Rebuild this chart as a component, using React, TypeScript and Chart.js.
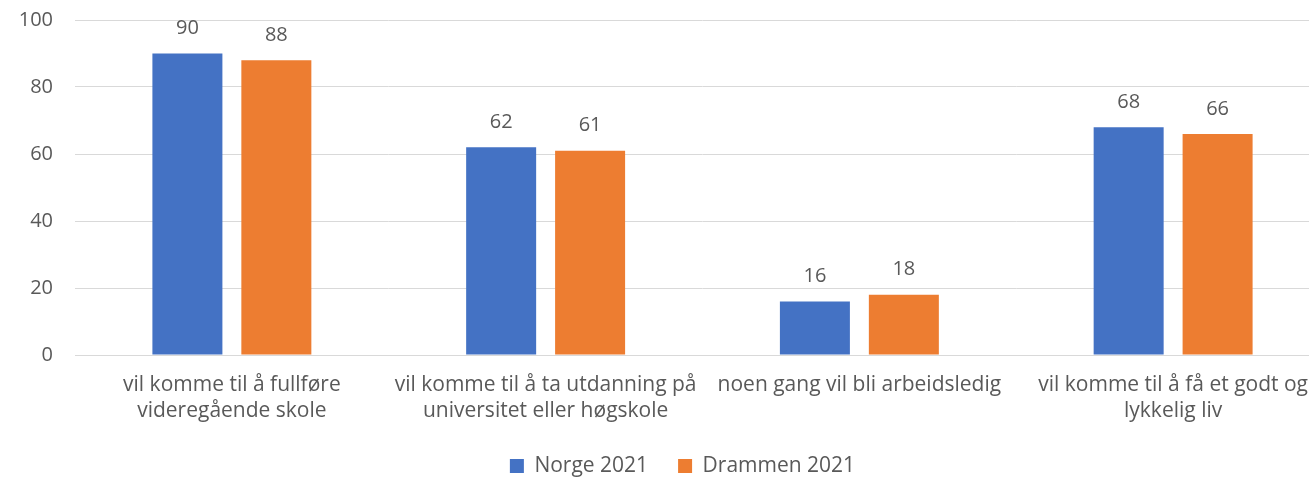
import React, { useEffect, useRef } from "react";
import { Chart, registerables } from "chart.js";

Chart.register(...registerables);

const categories: (string | string[])[] = [
  ["vil komme til å fullføre", "videregående skole"],
  ["vil komme til å ta utdanning på", "universitet eller høgskole"],
  "noen gang vil bli arbeidsledig",
  ["vil komme til å få et godt og", "lykkelig liv"],
];
const norge2021 = [90, 62, 16, 68];
const drammen2021 = [88, 61, 18, 66];
const yTicks = [0, 20, 40, 60, 80, 100];

const FONT = "'Open Sans', 'Noto Sans', sans-serif";
const TEXT = "#595959";

const CANVAS_W = 1365;
const CANVAS_H = 490;

const valueLabels = {
  id: "valueLabels",
  afterDatasetsDraw(chart: any) {
    const ctx = chart.ctx;
    ctx.save();
    ctx.font = `20px ${FONT}`;
    ctx.fillStyle = TEXT;
    ctx.textAlign = "center";
    ctx.textBaseline = "middle";
    chart.data.datasets.forEach((ds: any, i: number) => {
      const meta = chart.getDatasetMeta(i);
      meta.data.forEach((bar: any, j: number) => {
        ctx.fillText(String(ds.data[j]), bar.x, bar.y - 25);
      });
    });
    ctx.restore();
  },
};

// centre the legend under the full original chart width
const legendShift = {
  id: "legendShift",
  afterLayout(chart: any) {
    if (chart.legend) chart.legend.left += 35;
  },
};

export default function App() {
  const ref = useRef<HTMLCanvasElement>(null);
  useEffect(() => {
    if (!ref.current) return;
    const chart = new Chart(ref.current, {
      type: "bar",
      data: {
        labels: categories,
        datasets: [
          { label: "Norge 2021", data: norge2021, backgroundColor: "#4472C4", categoryPercentage: 0.567, barPercentage: 0.787 },
          { label: "Drammen 2021", data: drammen2021, backgroundColor: "#ED7D31", categoryPercentage: 0.567, barPercentage: 0.787 },
        ],
      },
      options: {
        animation: false,
        responsive: false,
        maintainAspectRatio: false,
        layout: { padding: { left: 0, right: 35, top: 20, bottom: 3.5 } },
        scales: {
          x: {
            grid: { display: false, drawTicks: false },
            border: { color: "#D9D9D9", width: 1 },
            ticks: { color: TEXT, font: { family: FONT, size: 21, lineHeight: 1.24 }, padding: 17, maxRotation: 0, autoSkip: false },
            afterFit: (s: any) => {
              s.paddingLeft = 0;
              s.paddingRight = 0;
              s.paddingTop = 0;
              s.paddingBottom = 0;
              s.height = 70.5;
            },
          },
          y: {
            min: 0,
            max: 100,
            afterBuildTicks: (axis: any) => {
              axis.ticks = yTicks.map((v) => ({ value: v }));
            },
            grid: { color: "#D9D9D9", drawTicks: false },
            border: { display: false },
            ticks: { color: TEXT, font: { family: FONT, size: 20 }, padding: 22 },
            afterFit: (s: any) => {
              s.paddingLeft = 0;
              s.paddingRight = 0;
              s.paddingTop = 0;
              s.paddingBottom = 0;
              s.width = 75;
            },
          },
        },
        plugins: {
          legend: {
            position: "bottom",
            labels: { color: TEXT, font: { family: FONT, size: 21 }, boxWidth: 14, boxHeight: 14, padding: 30 },
          },
          tooltip: { enabled: false },
        },
      },
      plugins: [valueLabels, legendShift],
    });
    return () => chart.destroy();
  }, []);
  return (
    <div style={{ position: "absolute", left: 0, top: 0, width: 1309, height: 480, overflow: "hidden" }}>
      <canvas ref={ref} width={CANVAS_W} height={CANVAS_H} style={{ width: CANVAS_W, height: CANVAS_H, display: "block" }} />
    </div>
  );
}
